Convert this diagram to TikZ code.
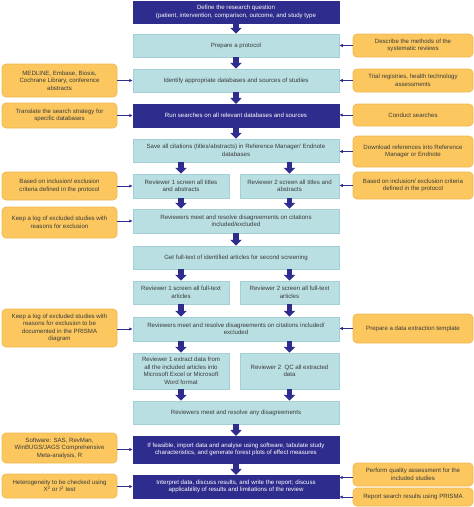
\documentclass[tikz,border=0pt]{standalone}
\usepackage{fontspec}
\setmainfont{Liberation Sans}
\usetikzlibrary{arrows.meta}
\definecolor{dblue}{HTML}{2E2C8C}
\definecolor{lcyan}{HTML}{B9DFE3}
\definecolor{lcyanb}{HTML}{A3D0D6}
\definecolor{orng}{HTML}{FBC75E}
\definecolor{orngb}{HTML}{F0B850}
\definecolor{txt}{HTML}{3A3A3A}
\begin{document}
\begin{tikzpicture}[x=1pt,y=-1pt,
  box/.style={inner sep=0pt, align=center, font=\fontsize{6.1}{7.5}\selectfont},
  lbox/.style={box, fill=lcyan, draw=lcyanb, line width=0.5pt, text=txt},
  dbox/.style={box, fill=dblue, draw=dblue, text=white},
  obox/.style={box, fill=orng, draw=orngb, rounded corners=4pt, line width=0.7pt, text=txt, minimum height=#1},
  full/.style={minimum width=206pt, minimum height=#1},
  half1/.style={minimum width=96pt, minimum height=#1},
  half2/.style={minimum width=99pt, minimum height=#1},
  lside/.style={obox=#1, minimum width=115pt},
  rside/.style={obox=#1, minimum width=120pt},
  bigarrow/.style={draw=dblue, line width=5.5pt, -{Triangle[width=11.5pt,length=6pt]}},
  sidearrow/.style={draw=dblue, line width=0.9pt, -{Latex[length=3.5pt,width=3.5pt]}}
]
\useasboundingbox (0,0) rectangle (474,507);

% main column
\node[dbox, full=22pt] (b1) at (236,12) {Define the research question\\(patient, intervention, comparison, outcome, and study type};
\node[lbox, full=23pt] (b2) at (236,45.5) {Prepare a protocol};
\node[lbox, full=23pt] (b3) at (236,80.5) {Identify appropriate databases and sources of studies};
\node[dbox, full=23pt] (b4) at (236,115.5) {Run searches on all relevant databases and sources};
\node[lbox, full=23pt] (b5) at (236,150.5) {Save all citations (titles/abstracts) in Reference Manager/ Endnote\\databases};
\node[lbox, half1=24pt] (r1a) at (181,186) {Reviewer 1 screen all titles\\and abstracts};
\node[lbox, half2=24pt] (r2a) at (289.5,186) {Reviewer 2 screen all titles and\\abstracts};
\node[lbox, full=24pt] (b6) at (236,221) {Reviewers meet and resolve disagreements on citations\\included/excluded};
\node[lbox, full=23pt] (b7) at (236,257.5) {Get full-text of identified articles for second screening};
\node[lbox, half1=23pt] (r1b) at (181,292.5) {Reviewer 1 screen all full-text\\articles};
\node[lbox, half2=23pt] (r2b) at (289.5,292.5) {Reviewer 2 screen all full-text\\articles};
\node[lbox, full=24pt] (b8) at (236,329) {Reviewers meet and resolve disagreements on citations included/\\excluded};
\node[lbox, half1=36pt] (r1c) at (181,371) {Reviewer 1 extract data from\\all the included articles into\\Microsoft Excel or Microsoft\\Word format};
\node[lbox, half2=36pt] (r2c) at (289.5,371) {Reviewer 2 \ QC all extracted\\data};
\node[lbox, full=23pt] (b9) at (236,412.5) {Reviewers meet and resolve any disagreements};
\node[dbox, full=27pt] (b10) at (236,449.5) {If feasible, import data and analyse using software, tabulate study\\characteristics, and generate forest plots of effect measures};
\node[dbox, full=23pt] (b11) at (236,486.5) {Interpret data, discuss results, and write the report; discuss\\applicability of results and limitations of the review};

% left side boxes
\node[lside=33pt] (l3) at (59.5,80.5) {MEDLINE, Embase, Biosis,\\Cochrane Library, conference\\abstracts};
\node[lside=25pt] (l4) at (59.5,115.5) {Translate the search strategy for\\specific databases};
\node[lside=28pt] (l5) at (59.5,186) {Based on inclusion/ exclusion\\criteria defined in the protocol};
\node[lside=31pt] (l6) at (59.5,222.5) {Keep a log of excluded studies with\\reasons for exclusion};
\node[lside=38pt] (l8) at (59.5,328) {Keep a log of excluded studies with\\reasons for exclusion to be\\documented in the PRISMA\\diagram};
\node[lside=30pt] (l10) at (59.5,448) {Software: SAS, RevMan,\\WinBUGS/JAGS Comprehensive\\Meta-analysis, R};
\node[lside=24pt] (l11) at (59.5,486) {Heterogeneity to be checked using\\X\textsuperscript{2} or I\textsuperscript{2} test};

% right side boxes
\node[rside=23pt] (q2) at (413,45.5) {Describe the methods of the\\systematic reviews};
\node[rside=23pt] (q3) at (413,80.5) {Trial registries, health technology\\assessments};
\node[rside=22pt] (q4) at (413,115) {Conduct searches};
\node[rside=31pt] (q5) at (413,151.5) {Download references into Reference\\Manager or Endnote};
\node[rside=27pt] (q6) at (413,185.5) {Based on inclusion/ exclusion criteria\\defined in the protocol};
\node[rside=29pt] (q8) at (413,328.5) {Prepare a data extraction template};
\node[rside=23pt] (q11a) at (413,474.5) {Perform quality assessment for the\\included studies};
\node[rside=18pt] (q11b) at (413,497) {Report search results using PRISMA};

% main arrows
\draw[bigarrow] (b1.south) -- (b2.north);
\draw[bigarrow] (b2.south) -- (b3.north);
\draw[bigarrow] (b3.south) -- (b4.north);
\draw[bigarrow] (b4.south) -- (b5.north);
\draw[bigarrow] (b5.south -| r1a) -- (r1a.north);
\draw[bigarrow] (b5.south -| r2a) -- (r2a.north);
\draw[bigarrow] (r1a.south) -- (b6.north -| r1a);
\draw[bigarrow] (r2a.south) -- (b6.north -| r2a);
\draw[bigarrow] (b6.south) -- (b7.north);
\draw[bigarrow] (b7.south -| r1b) -- (r1b.north);
\draw[bigarrow] (b7.south -| r2b) -- (r2b.north);
\draw[bigarrow] (r1b.south) -- (b8.north -| r1b);
\draw[bigarrow] (r2b.south) -- (b8.north -| r2b);
\draw[bigarrow] (b8.south -| r1c) -- (r1c.north);
\draw[bigarrow] (b8.south -| r2c) -- (r2c.north);
\draw[bigarrow] (r1c.south) -- (b9.north -| r1c);
\draw[bigarrow] (r2c.south) -- (b9.north -| r2c);
\draw[bigarrow] (b9.south) -- (b10.north);
\draw[bigarrow] (b10.south) -- (b11.north);

% side arrows
\draw[sidearrow] (l3.east) -- (b3.west);
\draw[sidearrow] (l4.east) -- (b4.west);
\draw[sidearrow] (l5.east) -- (r1a.west);
\draw[sidearrow] (l6.east |- b6.west) -- (b6.west);
\draw[sidearrow] (l8.east |- b8.west) -- (b8.west);
\draw[sidearrow] (l10.east |- b10.west) -- (b10.west);
\draw[sidearrow] (l11.east |- b11.west) -- (b11.west);
\draw[sidearrow] (q2.west) -- (b2.east);
\draw[sidearrow] (q3.west) -- (b3.east);
\draw[sidearrow] (q4.west) -- (q4.west -| b4.east);
\draw[sidearrow] (q5.west) -- (q5.west -| b5.east);
\draw[sidearrow] (q6.west) -- (q6.west -| r2a.east);
\draw[sidearrow] (q8.west) -- (q8.west -| b8.east);
\coordinate (q11aw) at ([yshift=-3pt]q11a.west);
\draw[sidearrow] (q11aw) -- (q11aw -| b11.east);
\draw[sidearrow] (q11b.west) -- (q11b.west -| b11.east);
\end{tikzpicture}
\end{document}
